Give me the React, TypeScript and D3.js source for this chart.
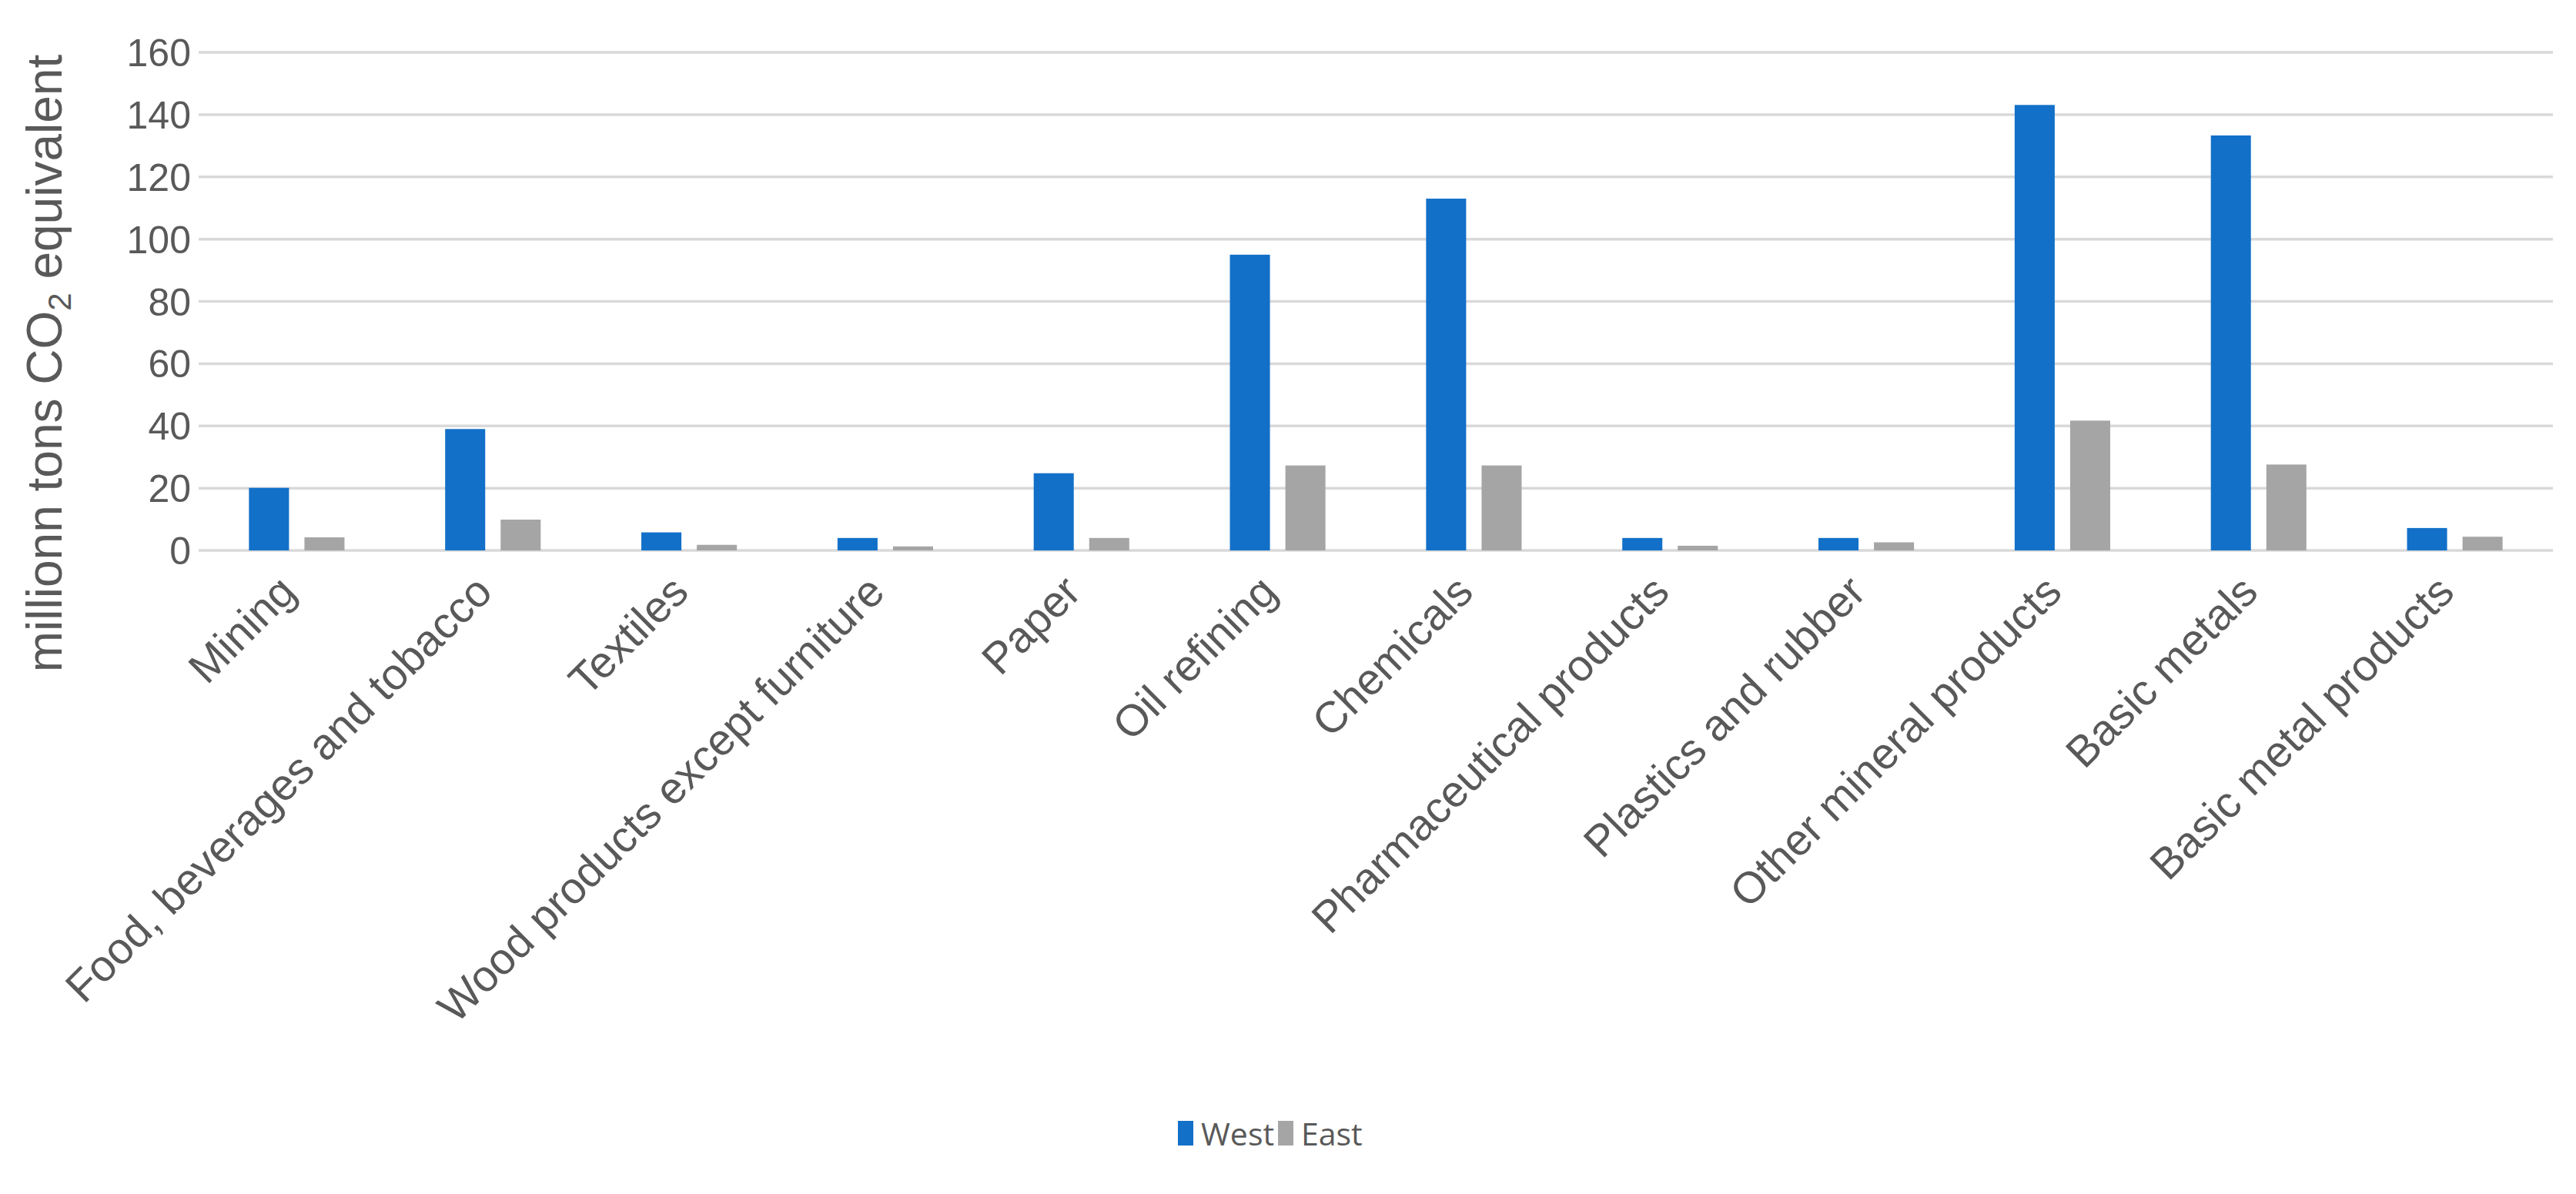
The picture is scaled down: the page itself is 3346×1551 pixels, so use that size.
import React from 'react';
import * as d3 from 'd3';

const categories = [
  "Mining",
  "Food, beverages and tobacco",
  "Textiles",
  "Wood products except furniture",
  "Paper",
  "Oil refining",
  "Chemicals",
  "Pharmaceutical products",
  "Plastics and rubber",
  "Other mineral products",
  "Basic metals",
  "Basic metal products",
];
const westValues = [20.1, 39.0, 5.8, 4.0, 24.8, 95.0, 113.0, 4.0, 4.0, 143.1, 133.3, 7.2];
const eastValues = [4.2, 9.9, 1.8, 1.3, 4.0, 27.3, 27.3, 1.5, 2.6, 41.7, 27.6, 4.4];
const seriesNames = ["West", "East"];
const seriesColors = ["#1270C8", "#A5A5A5"];
const yTicks = [0, 20, 40, 60, 80, 100, 120, 140, 160];

const W = 3346;
const H = 1551;
const plotLeft = 258;
const plotRight = 3316;
const plotTop = 68;
const plotBottom = 715;
const textColor = "#595959";
const axisFont = "'Liberation Sans', Arial, sans-serif";

export default function App() {
  const y = d3.scaleLinear().domain([0, 160]).range([plotBottom, plotTop]);
  const x0 = d3
    .scaleBand<string>()
    .domain(categories)
    .range([plotLeft, plotRight])
    .paddingInner(0.513)
    .paddingOuter(0.2565);
  const x1 = d3
    .scaleBand<string>()
    .domain(seriesNames)
    .range([0, x0.bandwidth()])
    .paddingInner(0.278);
  const series = [westValues, eastValues];

  return (
    <svg
      width={W}
      height={H}
      style={{ position: 'absolute', left: 0, top: 0, background: '#ffffff' }}
    >
      <rect x={0} y={0} width={W} height={H} fill="#ffffff" />
      {yTicks.map((t) => (
        <line
          key={t}
          x1={plotLeft}
          x2={plotRight}
          y1={y(t)}
          y2={y(t)}
          stroke="#D9D9D9"
          strokeWidth={3.5}
        />
      ))}
      {yTicks.map((t) => (
        <text
          key={'l' + t}
          x={248}
          y={y(t)}
          dy="0.36em"
          textAnchor="end"
          fontFamily={axisFont}
          fontSize={50}
          fill={textColor}
        >
          {t}
        </text>
      ))}
      <text
        transform={`translate(80, 472) rotate(-90)`}
        textAnchor="middle"
        fontFamily={axisFont}
        fontSize={64}
        fill={textColor}
      >
        millionn tons CO
        <tspan dy={12} fontSize={42}>2</tspan>
        <tspan dy={-12}> equivalent</tspan>
      </text>
      {categories.map((c, i) => (
        <g key={c} transform={`translate(${x0(c)},0)`}>
          {seriesNames.map((s, k) => (
            <rect
              key={s}
              x={x1(s)}
              y={y(series[k][i])}
              width={x1.bandwidth()}
              height={y(0) - y(series[k][i])}
              fill={seriesColors[k]}
            />
          ))}
        </g>
      ))}
      {categories.map((c) => {
        const cx = (x0(c) as number) + x0.bandwidth() / 2;
        return (
          <text
            key={'c' + c}
            transform={`translate(${cx + 2}, 772) rotate(-45)`}
            textAnchor="end"
            fontFamily={axisFont}
            fontSize={57}
            fill={textColor}
          >
            {c}
          </text>
        );
      })}
      <g>
        <rect x={1530} y={1456} width={20} height={32} fill={seriesColors[0]} />
        <text x={1560} y={1488} fontFamily="'Open Sans', sans-serif" fontSize={41} fill={textColor}>
          {seriesNames[0]}
        </text>
        <rect x={1660} y={1456} width={20} height={32} fill={seriesColors[1]} />
        <text x={1690} y={1488} fontFamily="'Open Sans', sans-serif" fontSize={41} fill={textColor}>
          {seriesNames[1]}
        </text>
      </g>
    </svg>
  );
}
